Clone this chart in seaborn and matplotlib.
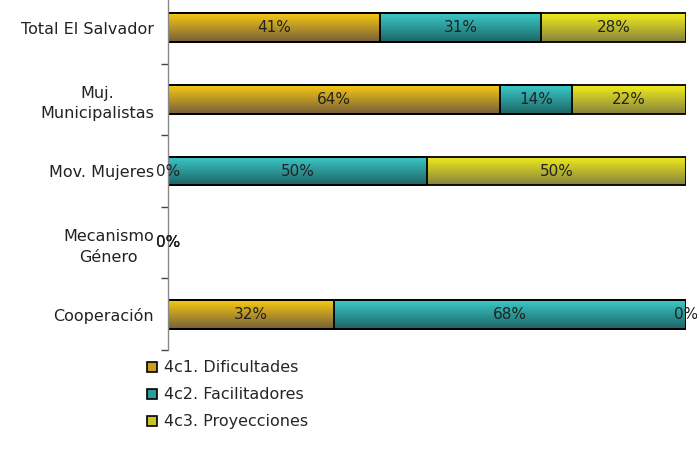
import numpy as np
import pandas as pd
import seaborn as sns
from matplotlib import pyplot as plt
from matplotlib.patches import Patch
from matplotlib.colors import LinearSegmentedColormap

categories = ['Total El Salvador', 'Muj.\nMunicipalistas', 'Mov. Mujeres',
              'Mecanismo\nGénero', 'Cooperación']
dificultades = [41, 64, 0, 0, 32]
facilitadores = [31, 14, 50, 0, 68]
proyecciones = [28, 22, 50, 0, 0]
series_names = ['4c1. Dificultades', '4c2. Facilitadores', '4c3. Proyecciones']

# top / bottom colours of the gradient fill for each series
grad_colors = [('#f7c812', '#76603a'),
               ('#3ccaca', '#1c6464'),
               ('#f2ee1a', '#86823e')]
mid_colors = ['#c8a020', '#2a9a9a', '#c8c426']

df = pd.DataFrame({'cat': categories,
                   'd': np.array(dificultades) / 100,
                   'f': np.array(facilitadores) / 100,
                   'p': np.array(proyecciones) / 100})
df['c1'] = df.d
df['c2'] = df.d + df.f
df['c3'] = df.d + df.f + df.p

sns.set_style('white')
plt.rcParams['font.family'] = ['DejaVu Sans']

fig = plt.figure(figsize=(6.97, 4.51), dpi=100)
ax = fig.add_axes([168 / 697, 101 / 451, 518 / 697, 358 / 451])

# overlay cumulative sums, widest first
groups = []
for col, i in [('c3', 2), ('c2', 1), ('c1', 0)]:
    n0 = len(ax.patches)
    sns.barplot(data=df, y='cat', x=col, orient='h', color=mid_colors[i],
                saturation=1, width=0.4, edgecolor='black', linewidth=1.3, ax=ax)
    groups.append((i, ax.patches[n0:]))

# vertical gradient fill, clipped to every bar
for i, patches in groups:
    cmap = LinearSegmentedColormap.from_list('g%d' % i, grad_colors[i])
    grad = np.linspace(0, 1, 64).reshape(-1, 1)
    for p in patches:
        x0, y0 = p.get_x(), p.get_y()
        w, h = p.get_width(), p.get_height()
        if w <= 0:
            continue
        im = ax.imshow(grad, cmap=cmap, aspect='auto', origin='upper',
                       extent=[x0, x0 + w, y0 + h, y0], zorder=0.5,
                       interpolation='bilinear')
        im.set_clip_path(p)
        p.set_facecolor('none')
        p.set_zorder(1)

ax.set_xlim(0, 1)
ax.set_ylim(4.5, -0.5)

# value labels
vals = [dificultades, facilitadores, proyecciones]
starts = [df.c1 * 0, df.c1, df.c2]
for k in range(3):
    for j in range(len(categories)):
        v = vals[k][j]
        x = starts[k][j] + v / 200
        ax.text(x, j, f'{v}%', ha='center', va='center', fontsize=11,
                color='#222222', zorder=3, clip_on=False)

ax.set_xlabel('')
ax.set_ylabel('')
ax.set_xticks([])
ax.tick_params(axis='y', which='major', length=0, labelsize=11.5,
               labelcolor='#222222', pad=10)
for lab in ax.get_yticklabels():
    lab.set_horizontalalignment('right')
    lab.set_multialignment('center')
    lab.set_linespacing(1.45)
ax.set_yticks(np.arange(0.5, 4.6, 1), minor=True)
ax.tick_params(axis='y', which='minor', left=True, length=5,
               color='#444444', width=1)
for s in ['top', 'right', 'bottom']:
    ax.spines[s].set_visible(False)
ax.spines['left'].set_color('#888888')
ax.spines['left'].set_linewidth(1)

handles = [Patch(facecolor=mid_colors[i], edgecolor='black', linewidth=1.2)
           for i in range(3)]
fig.legend(handles, series_names, loc='upper left',
           bbox_to_anchor=(141 / 697, 1 - 354 / 451), frameon=False,
           fontsize=11.5, handlelength=0.6, handleheight=0.6, handletextpad=0.45,
           labelspacing=0.75, borderaxespad=0)

fig.savefig('out.png', dpi=100)
